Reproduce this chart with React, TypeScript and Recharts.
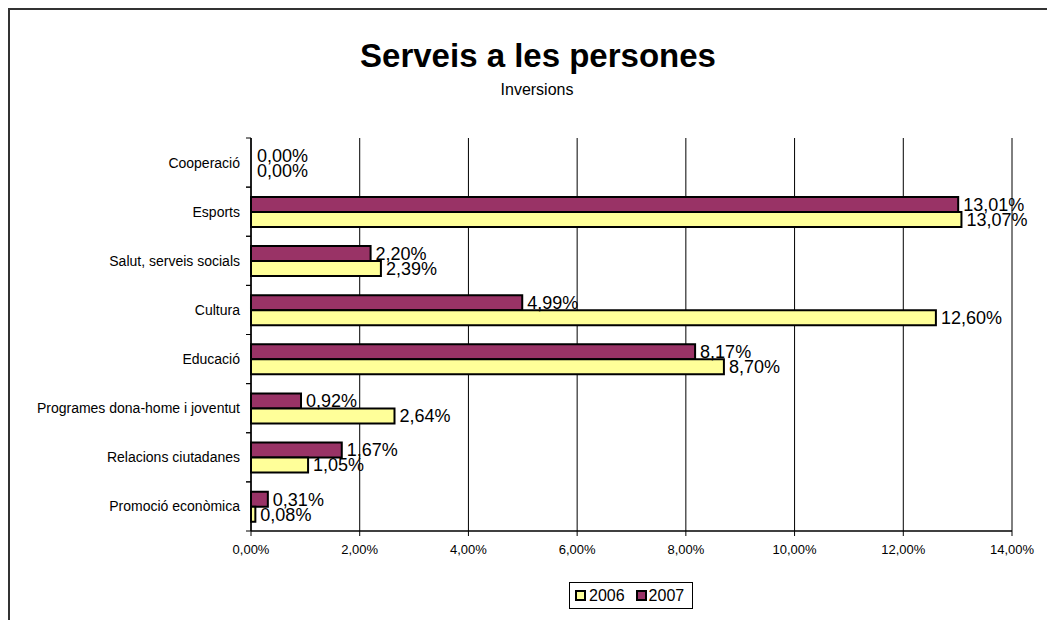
import React from "react";
import { BarChart, Bar, XAxis, YAxis, CartesianGrid, LabelList, Legend, Cell } from "recharts";

const categories = [
  "Cooperació",
  "Esports",
  "Salut, serveis socials",
  "Cultura",
  "Educació",
  "Programes dona-home i joventut",
  "Relacions ciutadanes",
  "Promoció econòmica",
];
const values2006 = [0, 13.07, 2.39, 12.6, 8.7, 2.64, 1.05, 0.08];
const values2007 = [0, 13.01, 2.2, 4.99, 8.17, 0.92, 1.67, 0.31];
const xTicks = [0, 2, 4, 6, 8, 10, 12, 14];

const data = categories.map((name, i) => ({ name, y2006: values2006[i], y2007: values2007[i] }));

const FONT = "'Liberation Sans', Arial, sans-serif";
const fmt = (v: number) => v.toFixed(2).replace(".", ",") + "%";

const YTick = (props: any) => {
  const { x, y, payload } = props;
  const half = payload && typeof payload.offset === "number" ? payload.offset : 24.5;
  const axisX = x + 11;
  return (
    <g>
      <line x1={axisX - 5} x2={axisX} y1={y - half} y2={y - half} stroke="#000" strokeWidth={1} />
      <line x1={axisX - 5} x2={axisX} y1={y + half} y2={y + half} stroke="#000" strokeWidth={1} />
      <text x={x} y={y} dy="0.355em" textAnchor="end" fontSize={14} fontFamily={FONT} fill="#000">
        {payload.value}
      </text>
    </g>
  );
};

const LegendBox = () => (
  <div
    style={{
      border: "1px solid #000",
      boxSizing: "border-box",
      width: 124,
      height: 27,
      display: "flex",
      alignItems: "center",
      paddingLeft: 5,
      fontFamily: FONT,
      fontSize: 16,
      color: "#000",
      background: "#fff",
    }}
  >
    <span style={{ width: 11, height: 11, boxSizing: "border-box", border: "2px solid #000", background: "#FFFF99", display: "inline-block" }} />
    <span style={{ marginLeft: 3 }}>2006</span>
    <span style={{ width: 11, height: 11, boxSizing: "border-box", border: "2px solid #000", background: "#993366", display: "inline-block", marginLeft: 11 }} />
    <span style={{ marginLeft: 2 }}>2007</span>
  </div>
);

const labelStyle = { fontSize: 18, fontFamily: FONT, fill: "#000" };

export default function App() {
  return (
    <div style={{ position: "relative", width: 1039, height: 612, overflow: "hidden", background: "#fff" }}>
      <div
        style={{
          position: "absolute",
          left: 0,
          top: 0,
          width: 1039,
          height: 612,
          boxSizing: "border-box",
          borderTop: "2px solid #333",
          borderLeft: "2px solid #333",
          pointerEvents: "none",
          zIndex: 2,
        }}
      />
      <div
        style={{
          position: "absolute",
          left: 0,
          width: 1060,
          top: 31,
          textAlign: "center",
          fontFamily: FONT,
          fontWeight: "bold",
          fontSize: 33,
          lineHeight: 1,
          color: "#000",
          whiteSpace: "nowrap",
        }}
      >
        Serveis a les persones
      </div>
      <div
        style={{
          position: "absolute",
          left: 0,
          width: 1058,
          top: 74,
          textAlign: "center",
          fontFamily: FONT,
          fontSize: 16,
          lineHeight: 1,
          color: "#000",
        }}
      >
        Inversions
      </div>
      <BarChart
        width={1039}
        height={612}
        data={data}
        layout="vertical"
        margin={{ top: 130, right: 35, bottom: 59, left: 0 }}
        barCategoryGap="20%"
        barGap={0}
      >
        <CartesianGrid horizontal={false} vertical={true} stroke="#000" strokeWidth={1} />
        <XAxis
          type="number"
          domain={[0, 14]}
          ticks={xTicks}
          tickFormatter={fmt}
          height={30}
          tickSize={5}
          tickMargin={9}
          axisLine={{ stroke: "#000", strokeWidth: 1.5 }}
          tickLine={{ stroke: "#000" }}
          tick={{ fontSize: 13, fontFamily: FONT, fill: "#000" }}
          interval={0}
        />
        <XAxis
          xAxisId="top"
          orientation="top"
          type="number"
          domain={[0, 14]}
          height={0}
          tick={false}
          tickLine={false}
          axisLine={{ stroke: "#808080", strokeWidth: 2 }}
        />
        <YAxis
          type="category"
          dataKey="name"
          width={243}
          tickSize={5}
          tickMargin={6}
          tickLine={false}
          axisLine={{ stroke: "#000", strokeWidth: 1.5 }}
          tick={<YTick />}
          interval={0}
        />
        <YAxis
          yAxisId="right"
          orientation="right"
          type="category"
          dataKey="name"
          width={0}
          tick={false}
          tickLine={false}
          axisLine={{ stroke: "#808080", strokeWidth: 2 }}
        />
        <Legend
          layout="horizontal"
          verticalAlign="middle"
          align="center"
          content={<LegendBox />}
          wrapperStyle={{ position: "absolute", left: 561, top: 574, width: 124, height: 27 }}
        />
        <Bar dataKey="y2007" name="2007" fill="#993366" stroke="#000" strokeWidth={2} minPointSize={1} isAnimationActive={false}>
          {values2007.map((v, i) => (
            <Cell key={i} fill={v === 0 ? "none" : "#993366"} stroke={v === 0 ? "none" : "#000"} />
          ))}
          <LabelList dataKey="y2007" position="right" offset={5} formatter={(v: any) => fmt(Number(v))} style={labelStyle} />
        </Bar>
        <Bar dataKey="y2006" name="2006" fill="#FFFF99" stroke="#000" strokeWidth={2} minPointSize={1} isAnimationActive={false}>
          {values2006.map((v, i) => (
            <Cell key={i} fill={v === 0 ? "none" : "#FFFF99"} stroke={v === 0 ? "none" : "#000"} />
          ))}
          <LabelList dataKey="y2006" position="right" offset={5} formatter={(v: any) => fmt(Number(v))} style={labelStyle} />
        </Bar>
      </BarChart>
    </div>
  );
}
